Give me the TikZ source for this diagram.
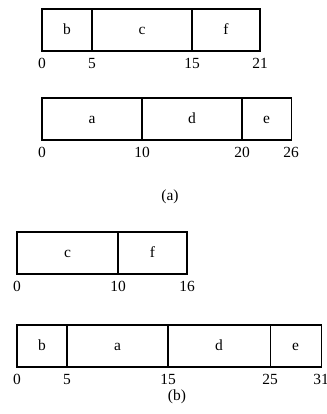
\documentclass[tikz,border=0pt]{standalone}
\usepackage{fontspec}
\setmainfont{Liberation Serif}
\usetikzlibrary{positioning}

\begin{document}
\begin{tikzpicture}[x=0.025cm, y=0.025cm, node distance=0pt,
    seg/.style={draw, line width=0.8pt, minimum height=1.05cm, inner sep=0pt, outer sep=0pt, text height=1.6ex, text depth=0.2ex, font=\fontsize{11}{13}\selectfont},
    tick/.style={anchor=north, inner sep=1pt, font=\fontsize{11}{13}\selectfont}]
    \useasboundingbox (0,0) rectangle (327,414);

    % (a) first schedule
    \node[seg, minimum width=1.25cm, anchor=south west] (ab) at (42, 363) {b};
    \node[seg, minimum width=2.5cm, right=of ab] (ac) {c};
    \node[seg, minimum width=1.7cm, right=of ac] (af) {f};
    \node[tick, below=4pt of ab.south west] {0};
    \node[tick, below=4pt of ab.south east] {5};
    \node[tick, below=4pt of ac.south east] {15};
    \node[tick, below=4pt of af.south east] {21};

    % (a) second schedule
    \node[seg, minimum width=2.5cm, anchor=south west] (aa) at (42, 274) {a};
    \node[seg, minimum width=2.5cm, right=of aa] (ad) {d};
    \node[seg, minimum width=1.225cm, right=of ad] (ae) {e};
    \node[tick, below=4pt of aa.south west] {0};
    \node[tick, below=4pt of aa.south east] {10};
    \node[tick, below=4pt of ad.south east] {20};
    \node[tick, below=4pt of ae.south east] {26};

    \node[font=\fontsize{11}{13}\selectfont] (capa) at (170, 217) {(a)};

    % (b) first schedule
    \node[seg, minimum width=2.525cm, anchor=south west] (bc) at (17, 140) {c};
    \node[seg, minimum width=1.725cm, right=of bc] (bf) {f};
    \node[tick, below=4pt of bc.south west] {0};
    \node[tick, below=4pt of bc.south east] {10};
    \node[tick, below=4pt of bf.south east] {16};

    % (b) second schedule
    \node[seg, minimum width=1.25cm, anchor=south west] (bb) at (17, 47) {b};
    \node[seg, minimum width=2.525cm, right=of bb] (ba) {a};
    \node[seg, minimum width=2.55cm, right=of ba] (bd) {d};
    \node[seg, minimum width=1.275cm, right=of bd] (be) {e};
    \node[tick, below=4pt of bb.south west] {0};
    \node[tick, below=4pt of bb.south east] {5};
    \node[tick, below=4pt of ba.south east] {15};
    \node[tick, below=4pt of bd.south east] {25};
    \node[tick, below=4pt of be.south east] {31};

    \node[font=\fontsize{11}{13}\selectfont] (capb) at (177, 17) {(b)};
\end{tikzpicture}
\end{document}
